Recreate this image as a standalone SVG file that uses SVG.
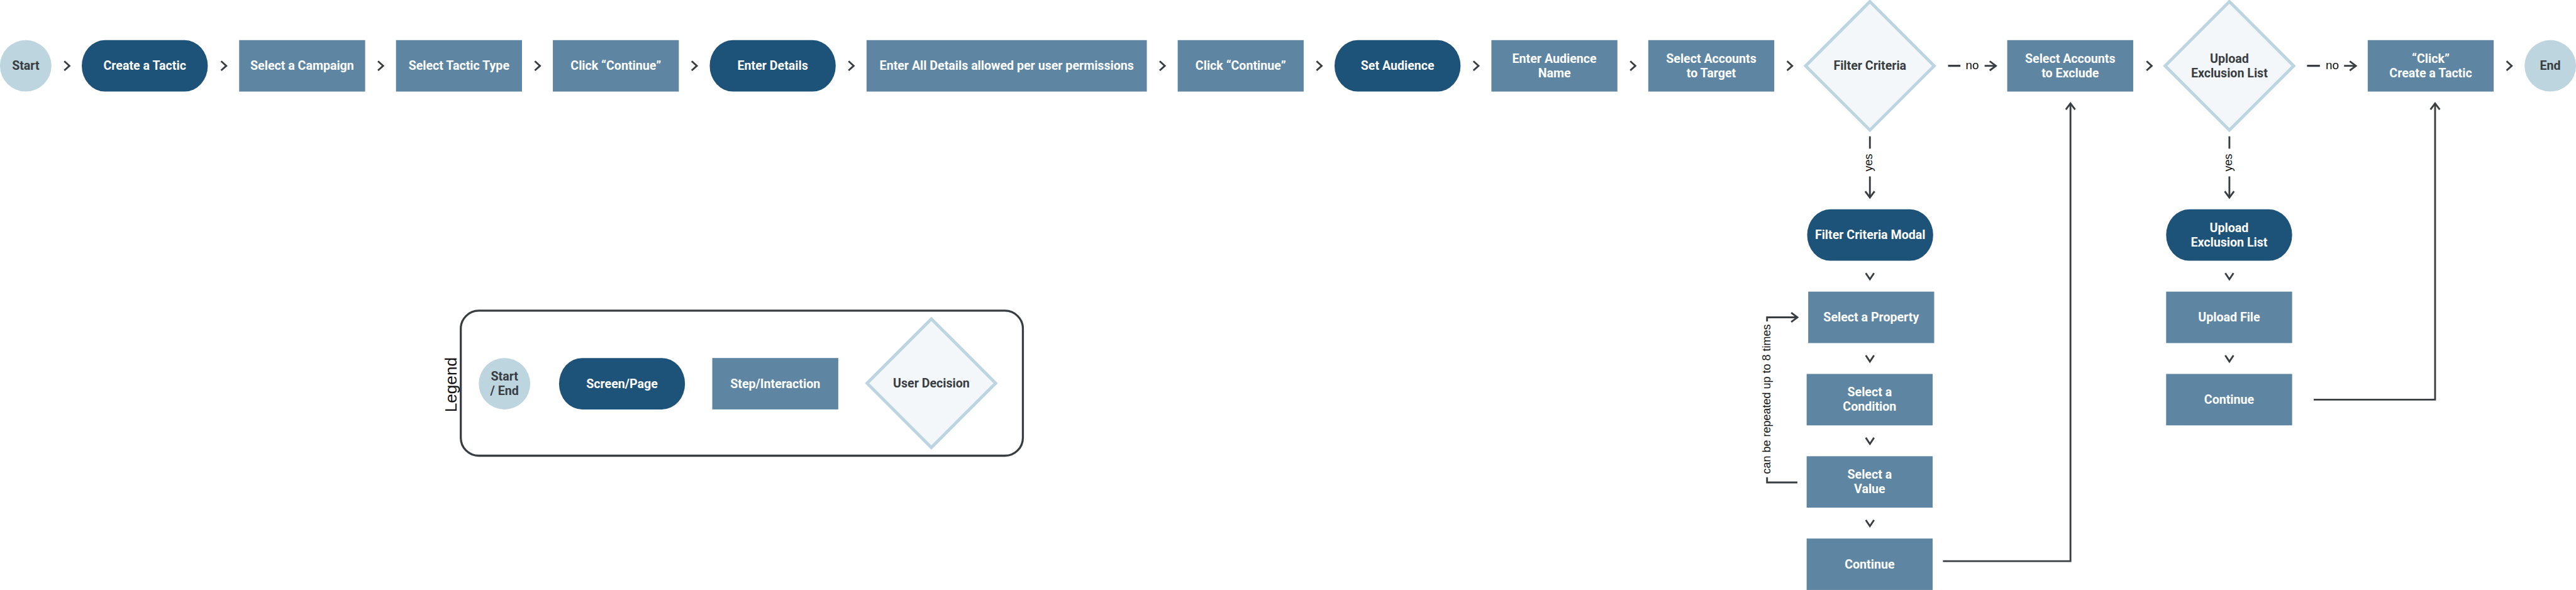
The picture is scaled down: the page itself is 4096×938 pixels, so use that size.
<svg xmlns="http://www.w3.org/2000/svg" width="4096" height="938" viewBox="0 0 4096 938">
<style>
.se{fill:#bdd5df}
.pg{fill:#1d5279}
.st{fill:#5e86a3}
.dc{fill:#f4f7f9;stroke:#bcd5e0;stroke-width:6}
.lw{font-family:Roboto,"Liberation Sans",sans-serif;font-weight:700;font-size:24px;fill:#ffffff;text-anchor:middle}
.ld{font-family:Roboto,"Liberation Sans",sans-serif;font-weight:700;font-size:24px;fill:#383d42;text-anchor:middle}
.no{font-family:"Liberation Sans",Arial,sans-serif;font-weight:400;font-size:23px;fill:#111111;text-anchor:middle}
.lab{font-family:"Liberation Sans",Arial,sans-serif;font-size:22px;fill:#111111;text-anchor:middle}
.leg{font-family:"Liberation Sans",Arial,sans-serif;font-size:32px;fill:#111111;text-anchor:middle}
.ln{fill:none;stroke:#383d42;stroke-width:3.5}
.chev{fill:none;stroke:#383d42;stroke-width:3.5}
.dash{fill:none;stroke:#383d42;stroke-width:4}
.lbox{fill:none;stroke:#383d42;stroke-width:4}
</style>
<defs>
<marker id="ah" markerWidth="26" markerHeight="26" refX="13" refY="13" orient="auto" markerUnits="userSpaceOnUse">
<path d="M1,4 L13,13 L1,22" fill="none" stroke="#383d42" stroke-width="3.5"/>
</marker>
</defs>
<rect width="4096" height="938" fill="#ffffff"/>
<g transform="scale(0.81773)">

<g id="connectors">
<path class="chev" d="M125,119 L135,128 L125,137 M430,119 L440,128 L430,137 M735,119 L745,128 L735,137 M1040,119 L1050,128 L1040,137 M1345,119 L1355,128 L1345,137 M1650,119 L1660,128 L1650,137 M2255,119 L2265,128 L2255,137 M2560,119 L2570,128 L2560,137 M2865,119 L2875,128 L2865,137 M3170,119 L3180,128 L3170,137 M3475,119 L3485,128 L3475,137 M4174,119 L4184,128 L4174,137 M4874,119 L4884,128 L4874,137"/>
<path class="chev" d="M3628,531 L3636,543 L3644,531 M3628,691 L3636,703 L3644,691 M3628,851 L3636,863 L3644,851 M3628,1011 L3636,1023 L3644,1011 M4327,531 L4335,543 L4343,531 M4327,691 L4335,703 L4343,691"/>
<path class="dash" d="M3788,128 H3812 M4486,128 H4511"/>
<text class="no" x="3835" y="135">no</text>
<path class="ln" d="M3859,128 H3881" marker-end="url(#ah)"/>
<text class="no" x="4535" y="135">no</text>
<path class="ln" d="M4558,128 H4581" marker-end="url(#ah)"/>
<path class="ln" d="M3636,265 V289"/>
<text class="lab" transform="translate(3641,316) rotate(-90)">yes</text>
<path class="ln" d="M3636,343 V384" marker-end="url(#ah)"/>
<path class="ln" d="M4335,265 V289"/>
<text class="lab" transform="translate(4340,316) rotate(-90)">yes</text>
<path class="ln" d="M4335,343 V384" marker-end="url(#ah)"/>
<path class="ln" d="M3436,625 V617 H3495" marker-end="url(#ah)"/>
<path class="ln" d="M3495,938 H3436 V928"/>
<text class="lab" transform="translate(3443,776) rotate(-90)">can be repeated up to 8 times</text>
<path class="ln" d="M3778,1091 H4026 V201" marker-end="url(#ah)"/>
<path class="ln" d="M4499,777 H4735 V201" marker-end="url(#ah)"/>
</g>

<g id="n-start"><circle class="se" cx="50" cy="128" r="50"/><text class="ld" x="50" y="136">Start</text></g>
<g id="n-create-tactic"><rect class="pg" x="159" y="78" width="245" height="100" rx="45" ry="50"/><text class="lw" x="281.5" y="136">Create a Tactic</text></g>
<g id="n-select-campaign"><rect class="st" x="465" y="78" width="245" height="100"/><text class="lw" x="587.5" y="136">Select a Campaign</text></g>
<g id="n-select-type"><rect class="st" x="770" y="78" width="245" height="100"/><text class="lw" x="892.5" y="136">Select Tactic Type</text></g>
<g id="n-continue-1"><rect class="st" x="1075" y="78" width="245" height="100"/><text class="lw" x="1197.5" y="136">Click “Continue”</text></g>
<g id="n-enter-details"><rect class="pg" x="1380" y="78" width="245" height="100" rx="45" ry="50"/><text class="lw" x="1502.5" y="136">Enter Details</text></g>
<g id="n-all-details"><rect class="st" x="1685" y="78" width="545" height="100"/><text class="lw" x="1957.5" y="136">Enter All Details allowed per user permissions</text></g>
<g id="n-continue-2"><rect class="st" x="2290" y="78" width="245" height="100"/><text class="lw" x="2412.5" y="136">Click “Continue”</text></g>
<g id="n-set-audience"><rect class="pg" x="2595" y="78" width="245" height="100" rx="45" ry="50"/><text class="lw" x="2717.5" y="136">Set Audience</text></g>
<g id="n-audience-name"><rect class="st" x="2900" y="78" width="245" height="100"/><text class="lw"><tspan x="3022.5" y="122">Enter Audience</tspan><tspan x="3022.5" y="150">Name</tspan></text></g>
<g id="n-accounts-target"><rect class="st" x="3205" y="78" width="245" height="100"/><text class="lw"><tspan x="3327.5" y="122">Select Accounts</tspan><tspan x="3327.5" y="150">to Target</tspan></text></g>
<g id="n-filter-criteria"><polygon class="dc" points="3636,3 3761,128 3636,253 3511,128"/><text class="ld" x="3636" y="136">Filter Criteria</text></g>
<g id="n-accounts-exclude"><rect class="st" x="3903" y="78" width="245" height="100"/><text class="lw"><tspan x="4025.5" y="122">Select Accounts</tspan><tspan x="4025.5" y="150">to Exclude</tspan></text></g>
<g id="n-upload-decision"><polygon class="dc" points="4335,3 4460,128 4335,253 4210,128"/><text class="ld"><tspan x="4335" y="122">Upload</tspan><tspan x="4335" y="150">Exclusion List</tspan></text></g>
<g id="n-click-create"><rect class="st" x="4604" y="78" width="245" height="100"/><text class="lw"><tspan x="4726.5" y="122">“Click”</tspan><tspan x="4726.5" y="150">Create a Tactic</tspan></text></g>
<g id="n-end"><circle class="se" cx="4959" cy="128" r="50"/><text class="ld" x="4959" y="136">End</text></g>

<g id="n-filter-modal"><rect class="pg" x="3514" y="407" width="245" height="100" rx="45" ry="50"/><text class="lw" x="3636.5" y="465">Filter Criteria Modal</text></g>
<g id="n-select-property"><rect class="st" x="3516" y="567" width="245" height="100"/><text class="lw" x="3638.5" y="625">Select a Property</text></g>
<g id="n-select-condition"><rect class="st" x="3513" y="727" width="245" height="100"/><text class="lw"><tspan x="3635.5" y="771">Select a</tspan><tspan x="3635.5" y="799">Condition</tspan></text></g>
<g id="n-select-value"><rect class="st" x="3513" y="887" width="245" height="100"/><text class="lw"><tspan x="3635.5" y="931">Select a</tspan><tspan x="3635.5" y="959">Value</tspan></text></g>
<g id="n-continue-filter"><rect class="st" x="3513" y="1047" width="245" height="100"/><text class="lw" x="3635.5" y="1105">Continue</text></g>

<g id="n-upload-list"><rect class="pg" x="4212" y="407" width="245" height="100" rx="45" ry="50"/><text class="lw"><tspan x="4334.5" y="451">Upload</tspan><tspan x="4334.5" y="479">Exclusion List</tspan></text></g>
<g id="n-upload-file"><rect class="st" x="4212" y="567" width="245" height="100"/><text class="lw" x="4334.5" y="625">Upload File</text></g>
<g id="n-continue-upload"><rect class="st" x="4212" y="727" width="245" height="100"/><text class="lw" x="4334.5" y="785">Continue</text></g>

<g id="legend">
<rect class="lbox" x="896" y="604" width="1093" height="282" rx="35" ry="35"/>
<text class="leg" transform="translate(888,748) rotate(-90)">Legend</text>
<g id="legend-start-end"><circle class="se" cx="981" cy="746" r="50"/><text class="ld"><tspan x="981" y="740">Start</tspan><tspan x="981" y="768">/ End</tspan></text></g>
<g id="legend-screen"><rect class="pg" x="1087" y="696" width="245" height="100" rx="45" ry="50"/><text class="lw" x="1209.5" y="754">Screen/Page</text></g>
<g id="legend-step"><rect class="st" x="1385" y="696" width="245" height="100"/><text class="lw" x="1507.5" y="754">Step/Interaction</text></g>
<g id="legend-decision"><polygon class="dc" points="1811,620 1936,745 1811,870 1686,745"/><text class="ld" x="1811" y="753">User Decision</text></g>
</g>

</g>
</svg>
